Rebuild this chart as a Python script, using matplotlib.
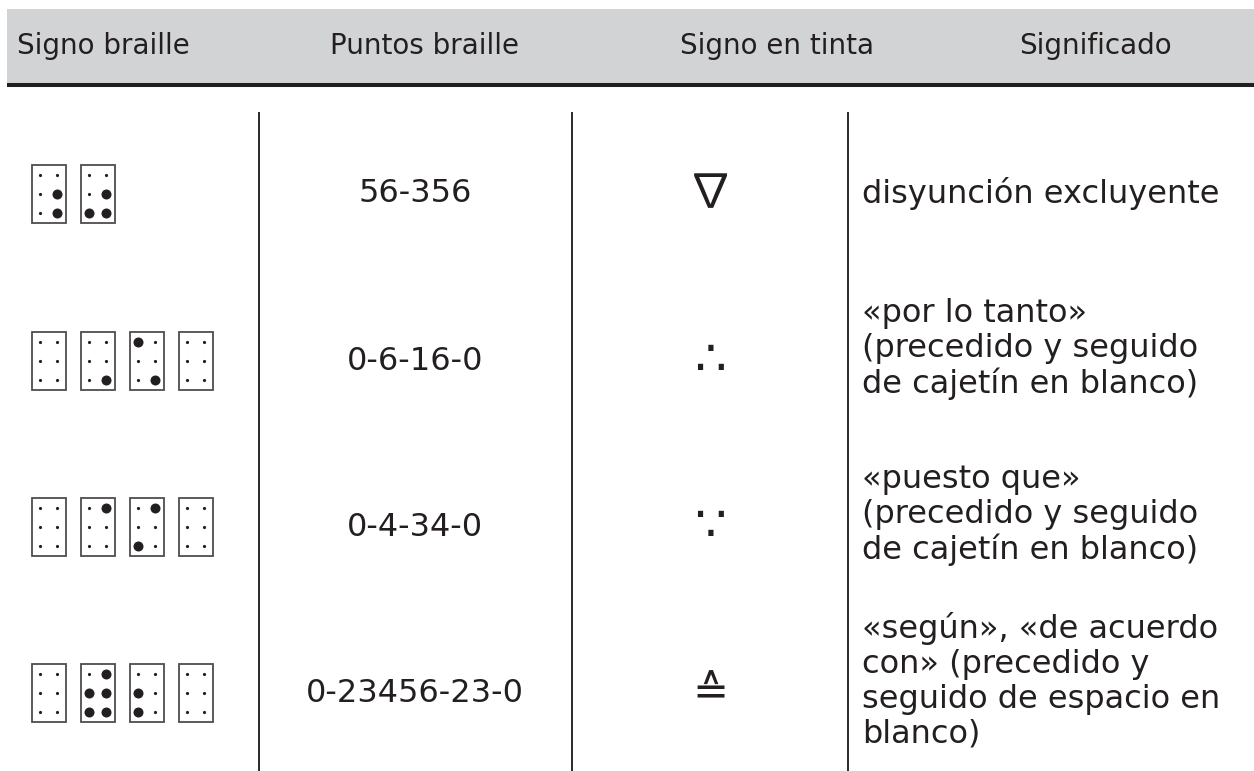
import matplotlib
matplotlib.use("Agg")
import matplotlib.pyplot as plt
from matplotlib.patches import Rectangle

# Datos de la tabla
encabezados = ["Signo braille", "Puntos braille", "Signo en tinta", "Significado"]
puntos = ["56-356", "0-6-16-0", "0-4-34-0", "0-23456-23-0"]
signos = ["\u2207", "\u2234", "\u2235", "\u2259"]
significados = [
    "disyunción excluyente",
    "«por lo tanto»\n(precedido y seguido\nde cajetín en blanco)",
    "«puesto que»\n(precedido y seguido\nde cajetín en blanco)",
    "«según», «de acuerdo\ncon» (precedido y\nseguido de espacio en\nblanco)",
]

# tamaño y fuente de cada signo en tinta (solo estilo)
tam_signo = {"\u2207": 34, "\u2234": 36, "\u2235": 36, "\u2259": 31}
fuente_signo = {"\u2207": ['Noto Sans CJK JP', 'DejaVu Sans']}

tinta = "#231f20"
gris = "#d1d3d4"
plt.rcParams['font.family'] = ['DejaVu Sans', 'Noto Sans']

W, H = 1254, 771
fig = plt.figure(figsize=(W / 100, H / 100), dpi=100)
ax = fig.add_axes([0, 0, 1, 1])
ax.set_xlim(0, W)
ax.set_ylim(H, 0)
ax.axis('off')

# Cabecera gris y línea gruesa
ax.add_patch(Rectangle((7, 9), W - 7, 74, facecolor=gris, edgecolor='none'))
ax.plot([7, W], [85, 85], color=tinta, lw=2.9, solid_capstyle='butt')
x_enc = [103, 425, 777, 1095]
for x, t in zip(x_enc, encabezados):
    ax.text(x, 46, t, ha='center', va='center', fontsize=20, color=tinta)

# Líneas verticales entre columnas
for x in [259, 572, 848]:
    ax.plot([x, x], [112, H], color="#2a2a2a", lw=1.4, solid_capstyle='butt')

# Filas
fila_y = [194, 361, 527, 693]
celda_w, celda_h, paso = 34, 58, 49
col_dx = [8, 25]
fil_dy = [10, 29, 48]

for y, p, s, sig in zip(fila_y, puntos, signos, significados):
    # celdas braille a partir de los puntos
    for i, celda in enumerate(p.split('-')):
        x0 = 32 + i * paso
        y0 = y - celda_h / 2
        ax.add_patch(Rectangle((x0, y0), celda_w, celda_h, facecolor='white',
                               edgecolor="#4d4d4d", lw=1.3))
        for n in range(1, 7):
            cx = x0 + col_dx[(n - 1) // 3]
            cy = y0 + fil_dy[(n - 1) % 3]
            if str(n) in celda:
                ax.plot(cx, cy, 'o', color=tinta, markersize=7.2, markeredgewidth=0)
            else:
                ax.plot(cx, cy, 'o', color=tinta, markersize=2.3, markeredgewidth=0)

    ax.text(415, y, p, ha='center', va='center', fontsize=23, color=tinta)
    ax.text(710, y, s, ha='center', va='center', fontsize=tam_signo[s], color=tinta,
            family=fuente_signo.get(s, ['DejaVu Sans', 'Noto Sans']))
    dy = -12 if '\n' in sig else 0
    ax.text(862, y + dy, sig, ha='left', va='center', fontsize=23, color=tinta,
            linespacing=1.16)

fig.savefig("out.png", dpi=100)
